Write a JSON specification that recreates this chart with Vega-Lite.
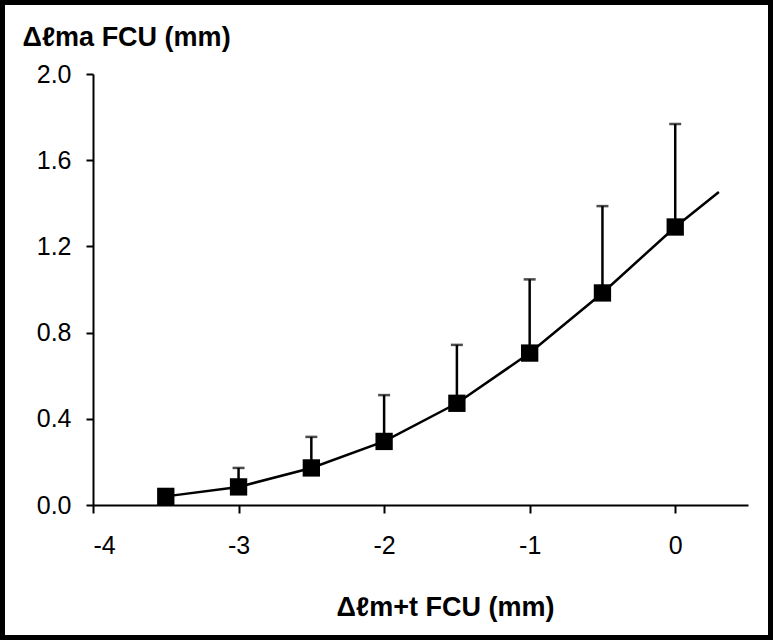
{
  "$schema": "https://vega.github.io/schema/vega-lite/v6.json",
  "autosize": {"type": "none"},
  "width": 655,
  "height": 431,
  "padding": {"left": 93, "top": 74, "right": 25, "bottom": 135},
  "background": "white",
  "config": {
    "view": {"stroke": null},
    "font": "Liberation Sans"
  },
  "datasets": {
    "points": [
      {"x": -3.5, "y": 0.04, "upper": null},
      {"x": -3, "y": 0.084, "upper": 0.172},
      {"x": -2.5, "y": 0.172, "upper": 0.316},
      {"x": -2, "y": 0.295, "upper": 0.51},
      {"x": -1.5, "y": 0.472, "upper": 0.743},
      {"x": -1, "y": 0.705, "upper": 1.047},
      {"x": -0.5, "y": 0.984, "upper": 1.387},
      {"x": 0, "y": 1.29, "upper": 1.768}
    ],
    "curve": [
      {"x": -3.5, "y": 0.04},
      {"x": -3, "y": 0.084},
      {"x": -2.5, "y": 0.172},
      {"x": -2, "y": 0.295},
      {"x": -1.5, "y": 0.472},
      {"x": -1, "y": 0.705},
      {"x": -0.5, "y": 0.984},
      {"x": 0, "y": 1.29},
      {"x": 0.3, "y": 1.452}
    ]
  },
  "layer": [
    {
      "data": {"name": "curve"},
      "mark": {"type": "line", "color": "black", "strokeWidth": 2.5},
      "encoding": {
        "x": {
          "field": "x", "type": "quantitative",
          "scale": {"domain": [-4, 0.5], "nice": false, "zero": false},
          "axis": {
            "values": [-4, -3, -2, -1, 0],
            "labelExpr": "'' + datum.value",
            "grid": false,
            "domainColor": "black", "domainWidth": 2,
            "tickColor": "black", "tickWidth": 2, "tickSize": 8,
            "labelFont": "Liberation Sans", "labelFontSize": 25, "labelColor": "black",
            "labelPadding": 20,
            "title": "Δℓm+t FCU (mm)",
            "titleFont": "Liberation Sans", "titleFontSize": 27, "titleFontWeight": "bold",
            "titleColor": "black",
            "titleX": 352, "titleY": 102, "titleAlign": "center", "titleBaseline": "middle"
          }
        },
        "y": {
          "field": "y", "type": "quantitative",
          "scale": {"domain": [0, 2], "nice": false},
          "axis": {
            "values": [0, 0.4, 0.8, 1.2, 1.6, 2.0],
            "format": ".1f",
            "grid": false,
            "domainColor": "black", "domainWidth": 2,
            "tickColor": "black", "tickWidth": 2, "tickSize": 7,
            "labelFont": "Liberation Sans", "labelFontSize": 25, "labelColor": "black",
            "labelPadding": 15,
            "title": "Δℓma FCU (mm)",
            "titleFont": "Liberation Sans", "titleFontSize": 27, "titleFontWeight": "bold",
            "titleColor": "black",
            "titleAngle": 0,
            "titleX": -71, "titleY": -37, "titleAlign": "left", "titleBaseline": "middle"
          }
        }
      }
    },
    {
      "data": {"name": "points"},
      "transform": [{"filter": "datum.upper != null"}],
      "mark": {"type": "rule", "color": "black", "strokeWidth": 2.5},
      "encoding": {
        "x": {"field": "x", "type": "quantitative"},
        "y": {"field": "y", "type": "quantitative"},
        "y2": {"field": "upper"}
      }
    },
    {
      "data": {"name": "points"},
      "transform": [{"filter": "datum.upper != null"}],
      "mark": {"type": "tick", "color": "black", "orient": "horizontal", "size": 12, "thickness": 2.5},
      "encoding": {
        "x": {"field": "x", "type": "quantitative"},
        "y": {"field": "upper", "type": "quantitative"}
      }
    },
    {
      "data": {"name": "points"},
      "mark": {"type": "point", "shape": "square", "filled": true, "color": "black", "size": 300, "opacity": 1},
      "encoding": {
        "x": {"field": "x", "type": "quantitative"},
        "y": {"field": "y", "type": "quantitative"}
      }
    },
    {
      "data": {"values": [{}]},
      "mark": {"type": "rect", "fill": null, "stroke": "black", "strokeWidth": 5, "clip": false},
      "encoding": {
        "x": {"value": -90.5},
        "x2": {"value": 677.5},
        "y": {"value": -71.5},
        "y2": {"value": 563.5}
      }
    }
  ]
}
